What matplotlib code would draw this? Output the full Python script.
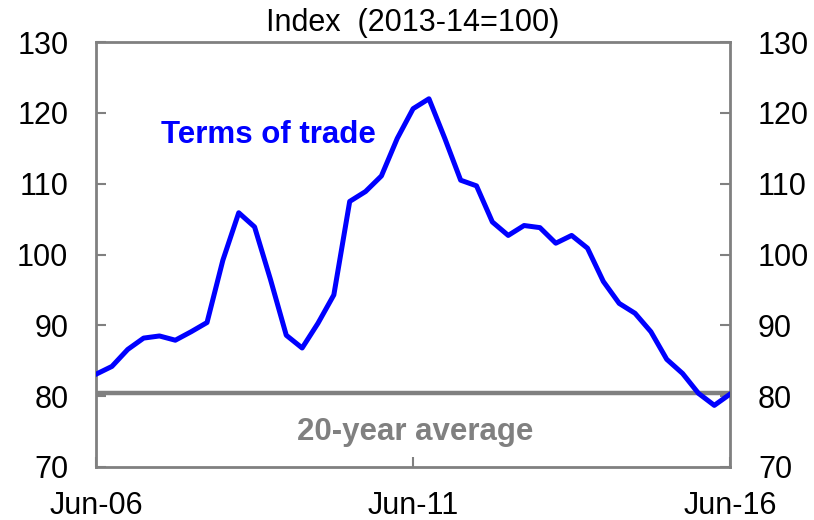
import numpy as np
import pandas as pd
import matplotlib
matplotlib.use("Agg")
import matplotlib.pyplot as plt

# quarterly terms of trade, Jun-06 .. Jun-16
dates = pd.date_range("2006-06-30", "2016-06-30", freq="QE-DEC")
tot = [83.1, 84.2, 86.6, 88.2, 88.5, 87.9, 89.1, 90.4, 99.2, 105.9,
       103.9, 96.5, 88.6, 86.8, 90.3, 94.3, 107.5, 108.9, 111.1, 116.4,
       120.6, 122.0, 116.4, 110.5, 109.7, 104.6, 102.7, 104.1, 103.8, 101.6,
       102.7, 100.9, 96.2, 93.1, 91.7, 89.1, 85.2, 83.2, 80.4, 78.7,
       80.3]
avg20 = 80.5
xtick_labels = ["Jun-06", "Jun-11", "Jun-16"]

plt.rcParams['font.family'] = ['Liberation Sans', 'DejaVu Sans']
gray = '#808080'

fig = plt.figure(figsize=(8.14, 5.2), dpi=100)
ax = fig.add_axes([0.118, 0.102, 0.779, 0.817])

x = np.arange(len(tot))
ax.axhline(avg20, color=gray, lw=3.2, zorder=2)
ax.plot(x, tot, color='#0000ff', lw=3.6, zorder=3)

ax.set_xlim(0, len(tot) - 1)
ax.set_ylim(70, 130)
ax.set_yticks(np.arange(70, 131, 10))
ax.set_xticks([0, 20, 40])
ax.set_xticklabels(xtick_labels)

for s in ax.spines.values():
    s.set_color(gray)
    s.set_linewidth(2)

ax.tick_params(axis='y', direction='in', length=7, width=1.5, color=gray,
               labelsize=22, pad=20, right=True, labelright=True)
ax.tick_params(axis='x', direction='in', length=7, width=1.5, color=gray,
               labelsize=22, pad=17)

ax.text(0.5, 1.026, "Index  (2013-14=100)", transform=ax.transAxes,
        ha='center', va='baseline', fontsize=22)
ax.text(10.9, 116.9, "Terms of trade", color='#0000ff', fontsize=22.5,
        fontweight='bold', ha='center', va='center')
ax.text(20.1, 74.9, "20-year average", color=gray, fontsize=22.5,
        fontweight='bold', ha='center', va='center')

fig.savefig("out.png", dpi=100)
